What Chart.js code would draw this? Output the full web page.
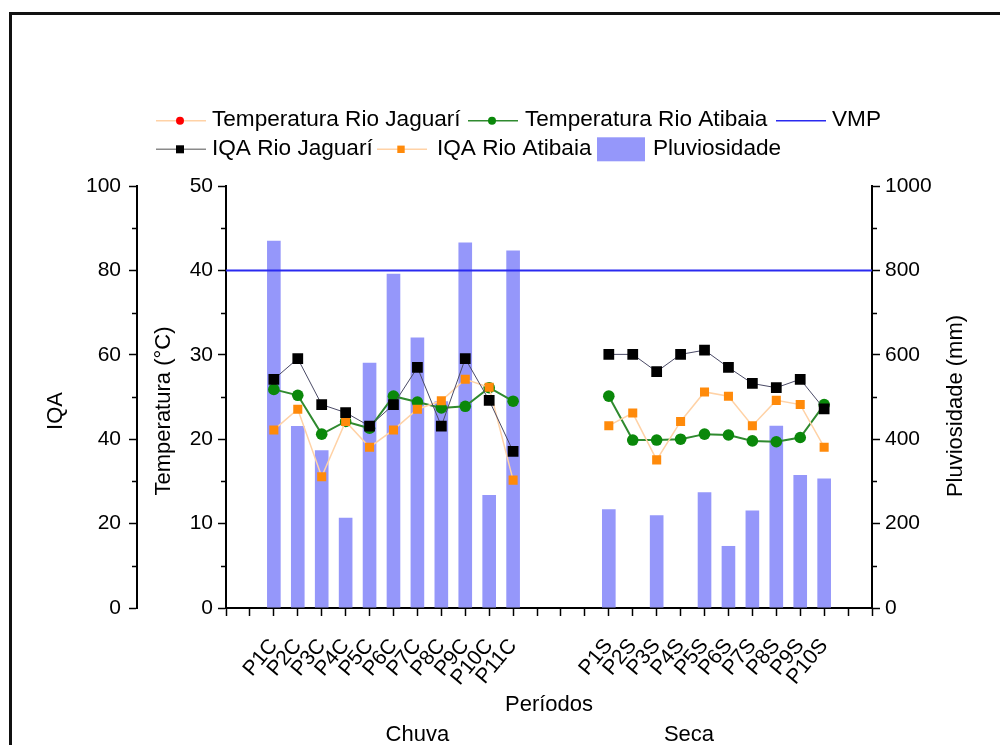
<!DOCTYPE html>
<html>
<head>
<meta charset="utf-8">
<title>IQA, temperatura e pluviosidade</title>
<script src="https://cdn.jsdelivr.net/npm/chart.js@4.4.1/dist/chart.umd.min.js"></script>
<style>
  html, body { margin: 0; padding: 0; background: #fff; }
  canvas { display: block; }
</style>
</head>
<body>
<canvas id="chart" width="1000" height="745"></canvas>
<script>
// Sampling periods: rainy season (Chuva) and dry season (Seca)
const chuvaPeriods = ['P1C', 'P2C', 'P3C', 'P4C', 'P5C', 'P6C', 'P7C', 'P8C', 'P9C', 'P10C', 'P11C'];
const secaPeriods  = ['P1S', 'P2S', 'P3S', 'P4S', 'P5S', 'P6S', 'P7S', 'P8S', 'P9S', 'P10S'];

// Water quality index (IQA, 0-100)
const iqaJaguariChuva = [54.2, 59.1, 48.2, 46.3, 43.1, 48.2, 57.0, 43.1, 59.1, 49.2, 37.1];
const iqaJaguariSeca  = [60.1, 60.1, 56.0, 60.1, 61.1, 57.0, 53.2, 52.2, 54.2, 47.2];
const iqaAtibaiaChuva = [42.2, 47.1, 31.1, 44.2, 38.1, 42.2, 47.1, 49.1, 54.2, 52.3, 30.3];
const iqaAtibaiaSeca  = [43.2, 46.2, 35.1, 44.2, 51.2, 50.2, 43.2, 49.2, 48.2, 38.1];

// Water temperature (°C)
const tempJaguariChuva = [];
const tempJaguariSeca  = [];
const tempAtibaiaChuva = [25.9, 25.2, 20.6, 22.1, 21.3, 25.1, 24.4, 23.7, 23.9, 26.1, 24.5];
const tempAtibaiaSeca  = [25.1, 19.9, 19.9, 20.0, 20.6, 20.5, 19.8, 19.7, 20.2, 24.1];

// Rainfall (mm)
const pluvChuva = [870, 431, 374, 214, 581, 792, 641, 490, 866, 268, 847];
const pluvSeca  = [234, 0, 220, 0, 274, 147, 231, 432, 315, 307];

// Maximum allowed value (°C)
const vmpValue = 40;

// Axis ranges and major steps
const iqaTicks  = { min: 0, max: 100, step: 20 };
const tempTicks = { min: 0, max: 50, step: 10 };
const pluvTicks = { min: 0, max: 1000, step: 200 };

// Empty slots around and between the two seasons on the category axis
const LEAD = 2, BETWEEN = 3, TRAIL = 2;
const blank = n => Array(n).fill('');
const labels = [...blank(LEAD), ...chuvaPeriods, ...blank(BETWEEN), ...secaPeriods, ...blank(TRAIL)];

function series(chuva, seca) {
  const take = (arr, n) => Array.from({ length: n }, (_, i) => (i < arr.length ? arr[i] : null));
  const nulls = n => Array(n).fill(null);
  return [
    ...nulls(LEAD), ...take(chuva, chuvaPeriods.length),
    ...nulls(BETWEEN), ...take(seca, secaPeriods.length),
    ...nulls(TRAIL)
  ];
}

const FONT = "'Liberation Sans', Arial, Helvetica, sans-serif";
Chart.defaults.font.family = FONT;
Chart.defaults.color = '#000';

const axisGrid = {
  display: true, drawOnChartArea: false, drawTicks: true,
  tickLength: 8, tickWidth: 1.5, tickColor: '#000', offset: false
};
const axisBorder = { display: true, color: '#000', width: 2 };
const plainNumber = v => String(v);

const datasets = [
  {
    type: 'line', label: 'Temperatura Rio Jaguarí', yAxisID: 'yT', order: 3,
    data: series(tempJaguariChuva, tempJaguariSeca),
    borderColor: '#ffd2a6', borderWidth: 1.5,
    pointStyle: 'circle', pointRadius: 5.5, pointBackgroundColor: '#ff0000', pointBorderWidth: 0,
    legendMarker: 4
  },
  {
    type: 'line', label: 'Temperatura Rio Atibaia', yAxisID: 'yT', order: 3,
    data: series(tempAtibaiaChuva, tempAtibaiaSeca),
    borderColor: '#2f8a2f', borderWidth: 2,
    pointStyle: 'circle', pointRadius: 5.8, pointBackgroundColor: '#0a880a', pointBorderWidth: 0,
    legendMarker: 4
  },
  {
    type: 'line', label: 'VMP', yAxisID: 'yT', order: 0,
    data: labels.map(() => vmpValue),
    borderColor: '#2a2af0', borderWidth: 2,
    pointRadius: 0, pointHoverRadius: 0,
    legendMarker: 0
  },
  {
    type: 'line', label: 'IQA Rio Jaguarí', yAxisID: 'yIQA', order: 1,
    data: series(iqaJaguariChuva, iqaJaguariSeca),
    borderColor: '#4a4a66', borderWidth: 1,
    pointStyle: 'rect', pointRadius: 7.6, pointBackgroundColor: '#000', pointBorderWidth: 0,
    legendLine: '#8a8a8a', legendMarker: 4
  },
  {
    type: 'line', label: 'IQA Rio Atibaia', yAxisID: 'yIQA', order: 2,
    data: series(iqaAtibaiaChuva, iqaAtibaiaSeca),
    borderColor: '#ffd2a6', borderWidth: 1.5,
    pointStyle: 'rect', pointRadius: 6.4, pointBackgroundColor: '#ff8a0a', pointBorderWidth: 0,
    legendMarker: 3.7
  },
  {
    type: 'bar', label: 'Pluviosidade', yAxisID: 'yP', order: 10,
    data: series(pluvChuva, pluvSeca),
    backgroundColor: '#9597fa', borderWidth: 0,
    categoryPercentage: 1, barPercentage: 0.57
  }
];

// Legend layout: symbol start and text start for each entry, by row
const legendRows = [
  { y: 120.7, items: [
    { label: 'Temperatura Rio Jaguarí', sx: 156, tx: 212 },
    { label: 'Temperatura Rio Atibaia', sx: 468, tx: 525 },
    { label: 'VMP', sx: 776, tx: 832 }
  ] },
  { y: 149.3, items: [
    { label: 'IQA Rio Jaguarí', sx: 156, tx: 212 },
    { label: 'IQA Rio Atibaia', sx: 377, tx: 437 },
    { label: 'Pluviosidade', sx: 597, tx: 653 }
  ] }
];

function drawMinorTicks(ctx, scale, step, side) {
  const len = 5;
  ctx.beginPath();
  for (let v = scale.min + step / 2; v < scale.max; v += step) {
    const y = Math.round(scale.getPixelForValue(v)) + 0.5;
    if (side === 'left') {
      ctx.moveTo(scale.right - len, y); ctx.lineTo(scale.right, y);
    } else {
      ctx.moveTo(scale.left, y); ctx.lineTo(scale.left + len, y);
    }
  }
  ctx.stroke();
}

function rotatedText(ctx, text, x, y) {
  ctx.save();
  ctx.translate(x, y);
  ctx.rotate(-Math.PI / 2);
  ctx.fillText(text, 0, 0);
  ctx.restore();
}

const decorations = {
  id: 'decorations',
  beforeDraw(chart) {
    const { ctx } = chart;
    ctx.save();
    ctx.fillStyle = '#fff';
    ctx.fillRect(0, 0, chart.width, chart.height);
    ctx.restore();
  },
  afterDraw(chart) {
    const { ctx, scales } = chart;
    ctx.save();

    // Page frame
    ctx.fillStyle = '#111';
    ctx.fillRect(9, 12, 3, chart.height - 12);
    ctx.fillRect(9, 12, chart.width - 9, 3);

    // Minor ticks between labelled ticks
    ctx.strokeStyle = '#000';
    ctx.lineWidth = 1.5;
    drawMinorTicks(ctx, scales.yIQA, iqaTicks.step, 'left');
    drawMinorTicks(ctx, scales.yT, tempTicks.step, 'left');
    drawMinorTicks(ctx, scales.yP, pluvTicks.step, 'right');

    // Axis titles
    ctx.fillStyle = '#000';
    ctx.font = '22px ' + FONT;
    ctx.textAlign = 'center';
    ctx.textBaseline = 'middle';
    rotatedText(ctx, 'IQA', 56, 411);
    rotatedText(ctx, 'Temperatura (°C)', 164, 411);
    rotatedText(ctx, 'Pluviosidade (mm)', 956, 406);

    const xs = scales.x;
    const midX = (xs.left + xs.right) / 2;
    ctx.fillText('Períodos', midX, 705);
    ctx.fillText('Chuva', xs.getPixelForValue(8), 735);
    ctx.fillText('Seca', xs.getPixelForValue(19.35), 735);

    // Legend
    const byLabel = {};
    chart.data.datasets.forEach(d => { byLabel[d.label] = d; });
    ctx.textAlign = 'left';
    legendRows.forEach(row => {
      row.items.forEach(item => {
        const ds = byLabel[item.label];
        const y = row.y;
        if (ds.type === 'bar') {
          ctx.fillStyle = ds.backgroundColor;
          ctx.fillRect(item.sx, y - 12, 48, 24);
        } else {
          ctx.strokeStyle = ds.legendLine || ds.borderColor;
          ctx.lineWidth = 1.5;
          ctx.beginPath();
          ctx.moveTo(item.sx, y);
          ctx.lineTo(item.sx + 50, y);
          ctx.stroke();
          const m = ds.legendMarker;
          if (m > 0) {
            const cx = item.sx + 24;
            ctx.fillStyle = ds.pointBackgroundColor;
            if (ds.pointStyle === 'rect') {
              ctx.fillRect(cx - m, y - m, 2 * m, 2 * m);
            } else {
              ctx.beginPath();
              ctx.arc(cx, y, m, 0, Math.PI * 2);
              ctx.fill();
            }
          }
        }
        ctx.fillStyle = '#000';
        ctx.font = '22.6px ' + FONT;
        ctx.fillText(item.label, item.tx, y - 1);
      });
    });

    ctx.restore();
  }
};

new Chart(document.getElementById('chart'), {
  type: 'bar',
  data: { labels, datasets },
  options: {
    responsive: false,
    animation: false,
    events: [],
    layout: { padding: { left: 20, top: 186, right: 0, bottom: 0 } },
    plugins: { legend: { display: false }, tooltip: { enabled: false }, title: { display: false } },
    scales: {
      x: {
        type: 'category', position: 'bottom', offset: false,
        grid: axisGrid, border: axisBorder,
        ticks: { autoSkip: false, minRotation: 50, maxRotation: 50, padding: 18, font: { size: 21 }, color: '#000' },
        afterFit(s) { s.height = 137; }
      },
      yIQA: {
        type: 'linear', position: 'left', weight: 1,
        min: iqaTicks.min, max: iqaTicks.max,
        grid: axisGrid, border: axisBorder,
        ticks: { stepSize: iqaTicks.step, padding: 8, font: { size: 21 }, color: '#000', callback: plainNumber },
        afterFit(s) { s.width = 117; }
      },
      yT: {
        type: 'linear', position: 'left', weight: 0,
        min: tempTicks.min, max: tempTicks.max,
        grid: axisGrid, border: axisBorder,
        ticks: { stepSize: tempTicks.step, padding: 5, font: { size: 21 }, color: '#000', callback: plainNumber },
        afterFit(s) { s.width = 89; }
      },
      yP: {
        type: 'linear', position: 'right',
        min: pluvTicks.min, max: pluvTicks.max,
        grid: axisGrid, border: axisBorder,
        ticks: { stepSize: pluvTicks.step, padding: 5, font: { size: 21 }, color: '#000', callback: plainNumber },
        afterFit(s) { s.width = 128; }
      }
    }
  },
  plugins: [decorations]
});
</script>
</body>
</html>
